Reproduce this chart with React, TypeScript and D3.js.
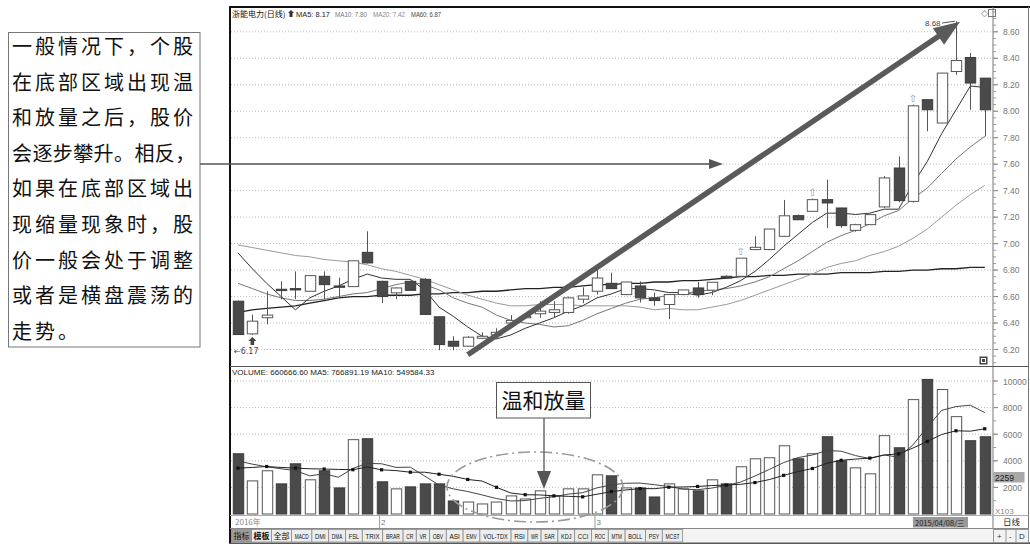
import React from "react";
import * as d3 from "d3";

// ---------- data ----------
const opens = [6.565, 6.318, 6.44, 6.655, 6.66, 6.64, 6.753, 6.68, 6.675, 6.934, 6.715, 6.628, 6.715, 6.73, 6.447, 6.262, 6.225, 6.285, 6.31, 6.40, 6.44, 6.47, 6.48, 6.48, 6.58, 6.64, 6.70, 6.615, 6.68, 6.59, 6.54, 6.615, 6.665, 6.648, 6.753, 6.753, 6.955, 6.955, 7.055, 7.211, 7.244, 7.332, 7.269, 7.10, 7.143, 7.277, 7.571, 7.319, 8.087, 7.911, 8.30, 8.406, 8.25];
const highs = [6.57, 6.464, 6.64, 6.715, 6.79, 6.76, 6.79, 6.743, 6.87, 7.093, 6.72, 6.67, 6.72, 6.74, 6.45, 6.30, 6.30, 6.33, 6.36, 6.46, 6.47, 6.565, 6.565, 6.60, 6.67, 6.80, 6.78, 6.71, 6.715, 6.63, 6.615, 6.65, 6.71, 6.71, 6.76, 6.89, 7.055, 7.11, 7.33, 7.22, 7.34, 7.483, 7.27, 7.15, 7.22, 7.51, 7.659, 8.05, 8.09, 8.29, 8.68, 8.44, 8.25];
const lows = [6.31, 6.31, 6.39, 6.58, 6.58, 6.64, 6.58, 6.592, 6.675, 6.85, 6.55, 6.58, 6.645, 6.46, 6.195, 6.195, 6.22, 6.28, 6.30, 6.40, 6.43, 6.44, 6.44, 6.47, 6.55, 6.615, 6.66, 6.61, 6.555, 6.53, 6.43, 6.61, 6.59, 6.61, 6.74, 6.75, 6.95, 6.95, 7.05, 7.18, 7.24, 7.118, 7.12, 7.09, 7.14, 7.27, 7.312, 7.31, 7.848, 7.91, 8.275, 8.011, 7.81];
const closes = [6.313, 6.414, 6.46, 6.645, 6.65, 6.758, 6.69, 6.67, 6.87, 6.854, 6.60, 6.665, 6.647, 6.465, 6.237, 6.225, 6.293, 6.30, 6.33, 6.42, 6.45, 6.49, 6.50, 6.59, 6.605, 6.74, 6.66, 6.71, 6.59, 6.57, 6.615, 6.65, 6.615, 6.708, 6.74, 6.89, 6.972, 7.11, 7.21, 7.18, 7.332, 7.307, 7.136, 7.143, 7.219, 7.496, 7.325, 8.041, 8.011, 8.288, 8.383, 8.213, 8.011];
const volumes = [4530, 2490, 3250, 2265, 3775, 2570, 3250, 1960, 5590, 5660, 2420, 1890, 2040, 2265, 2265, 980, 900, 755, 900, 1360, 1130, 1740, 1360, 1890, 1890, 2945, 2870, 1960, 1960, 1280, 2265, 1890, 1740, 2570, 2265, 3550, 4150, 4230, 5130, 4150, 4530, 5810, 4000, 3470, 3020, 5890, 4980, 8600, 10120, 9360, 7320, 5510, 5810];

const ma5 = [6.93, 6.81, 6.70, 6.60, 6.50, 6.59, 6.64, 6.68, 6.73, 6.77, 6.74, 6.73, 6.73, 6.65, 6.52, 6.45, 6.37, 6.30, 6.28, 6.31, 6.36, 6.40, 6.44, 6.49, 6.53, 6.59, 6.62, 6.66, 6.66, 6.65, 6.63, 6.63, 6.61, 6.63, 6.67, 6.72, 6.79, 6.88, 6.98, 7.07, 7.16, 7.23, 7.23, 7.22, 7.23, 7.26, 7.26, 7.45, 7.62, 7.83, 8.01, 8.19, 8.18];
const ma10 = [6.70, 6.66, 6.62, 6.59, 6.57, 6.57, 6.58, 6.60, 6.62, 6.63, 6.66, 6.69, 6.71, 6.69, 6.65, 6.59, 6.55, 6.52, 6.46, 6.42, 6.40, 6.39, 6.37, 6.38, 6.42, 6.47, 6.51, 6.55, 6.58, 6.59, 6.61, 6.62, 6.64, 6.65, 6.66, 6.68, 6.71, 6.75, 6.81, 6.87, 6.94, 7.01, 7.06, 7.10, 7.15, 7.21, 7.25, 7.34, 7.42, 7.53, 7.64, 7.73, 7.81];
const ma20 = [6.99, 6.97, 6.95, 6.93, 6.91, 6.90, 6.88, 6.87, 6.86, 6.84, 6.81, 6.79, 6.76, 6.73, 6.69, 6.65, 6.61, 6.58, 6.55, 6.53, 6.53, 6.54, 6.54, 6.54, 6.53, 6.53, 6.53, 6.53, 6.52, 6.50, 6.51, 6.50, 6.50, 6.52, 6.54, 6.57, 6.61, 6.65, 6.69, 6.73, 6.77, 6.82, 6.85, 6.87, 6.91, 6.94, 6.98, 7.04, 7.11, 7.20, 7.29, 7.37, 7.44];
const ma60 = [6.48, 6.50, 6.51, 6.52, 6.53, 6.55, 6.57, 6.59, 6.60, 6.60, 6.61, 6.61, 6.61, 6.62, 6.62, 6.63, 6.63, 6.64, 6.64, 6.65, 6.66, 6.66, 6.67, 6.67, 6.68, 6.69, 6.69, 6.70, 6.70, 6.71, 6.71, 6.72, 6.72, 6.73, 6.74, 6.75, 6.75, 6.76, 6.76, 6.77, 6.77, 6.77, 6.78, 6.78, 6.78, 6.79, 6.79, 6.80, 6.80, 6.81, 6.81, 6.82, 6.82];
const volMa5 = [4000, 3750, 3550, 3400, 3262, 2870, 3022, 2764, 3429, 3806, 3776, 3504, 3520, 2855, 2176, 1888, 1690, 1433, 1160, 979, 1009, 1177, 1298, 1496, 1602, 1965, 2191, 2311, 2325, 2203, 2067, 1871, 1827, 1949, 2146, 2403, 2855, 3353, 3865, 4242, 4438, 4770, 4724, 4392, 4166, 4438, 4272, 5192, 6522, 7790, 8076, 8182, 7624];
const volMa10 = [3450, 3500, 3570, 3500, 3450, 3400, 3380, 3350, 3330, 3534, 3323, 3263, 3142, 3142, 2991, 2832, 2597, 2477, 2008, 1578, 1449, 1434, 1366, 1328, 1291, 1487, 1684, 1805, 1911, 1903, 2016, 2031, 2069, 2137, 2175, 2235, 2363, 2590, 2907, 3194, 3421, 3813, 4039, 4129, 4204, 4438, 4521, 4958, 5457, 5978, 6257, 6227, 6408];

const priceTicks = [6.2, 6.4, 6.6, 6.8, 7.0, 7.2, 7.4, 7.6, 7.8, 8.0, 8.2, 8.4, 8.6];
const volTicks = [2000, 4000, 6000, 8000, 10000];
const markerIdx = [35, 40, 47];
const monthMarks = [{ i: 10, label: "2" }, { i: 25, label: "3" }];
const yearLabel = "2016年";
const lastDate = "2015/04/08/三";
const titleText = "浙能电力(日线)";
const maTitles = ["MA5: 8.17", "MA10: 7.80", "MA20: 7.42", "MA60: 6.87"];
const volTitle = "VOLUME: 660666.60  MA5: 766891.19  MA10: 549584.33";
const noteLines = ["一般情况下，个股", "在底部区域出现温", "和放量之后，股价", "会逐步攀升。相反，", "如果在底部区域出", "现缩量现象时，股", "价一般会处于调整", "或者是横盘震荡的", "走势。"];
const calloutText = "温和放量";
const tabLabels = ["指标", "模板", "全部", "MACD", "DMI", "DMA", "FSL", "TRIX", "BRAR", "CR", "VR", "OBV", "ASI", "EMV", "VOL-TDX", "RSI", "WR", "SAR", "KDJ", "CCI", "ROC", "MTM", "BOLL", "PSY", "MCST"];

const SANS = "'Liberation Sans', Arial, sans-serif";
const CJK = "'Noto Sans CJK SC', sans-serif";

export default function App() {
  const n = closes.length;
  const x = d3.scaleBand<number>().domain(d3.range(n)).range([230.8, 991.9]).padding(0);
  const bw = x.bandwidth();
  const cx = (i: number) => (x(i) as number) + bw / 2;
  const yP = d3.scaleLinear().domain([6.2, 8.6]).range([349.5, 31.8]);
  const yV = d3.scaleLinear().domain([0, 10000]).range([514, 381]);
  const bodyW = 10.4;

  const lp = d3.line<number>().x((_, i) => cx(i)).y((d) => yP(d));
  const lv = d3.line<number>().x((_, i) => cx(i)).y((d) => yV(d));

  const dark = "#4a4a4a";
  const edge = "#555";

  // big arrow
  const aS = [cx(16), yP(6.16)];
  const aT = [cx(50) + 4, yP(8.675)];
  const dx = aT[0] - aS[0], dy = aT[1] - aS[1];
  const len = Math.hypot(dx, dy);
  const ux = dx / len, uy = dy / len;
  const hl = 26, hw = 10;
  const bx = aT[0] - ux * hl, by = aT[1] - uy * hl;
  const head = `M${aT[0]},${aT[1]} L${bx - uy * hw},${by + ux * hw} L${bx + uy * hw},${by - ux * hw} Z`;

  // tabs
  let tx = 231;
  const tabs = tabLabels.map((t) => {
    const cjk = /[\u4e00-\u9fff]/.test(t);
    const w = cjk ? 20 : t.length * 3.6 + 6;
    const r = { t, x: tx, w, cjk };
    tx += w;
    return r;
  });

  const maX = [296, 335, 373, 411];
  const maW = [34, 32, 32, 30];

  return (
    <svg width={1030} height={546} style={{ position: "absolute", left: 0, top: 0, background: "#fff" }}>
      <rect x={0} y={0} width={1030} height={546} fill="#fff" />

      {/* frame */}
      <line x1={229} x2={1030} y1={7} y2={7} stroke="#111" strokeWidth={2} />
      <line x1={230} x2={230} y1={6} y2={543} stroke="#111" strokeWidth={2} />
      <line x1={993} x2={993} y1={7} y2={529} stroke="#777" strokeWidth={1} />
      <line x1={1028.5} x2={1028.5} y1={7} y2={543} stroke="#777" />
      <line x1={230} x2={1029} y1={366.5} y2={366.5} stroke="#555" />
      <line x1={230} x2={1029} y1={515.5} y2={515.5} stroke="#aaa" />
      <line x1={230} x2={1029} y1={528.5} y2={528.5} stroke="#888" />
      <line x1={229} x2={1030} y1={543} y2={543} stroke="#222" strokeWidth={1.5} />

      {/* price grid */}
      {priceTicks.map((p) => (
        <g key={"pg" + p}>
          <line x1={231} x2={992} y1={yP(p)} y2={yP(p)} stroke="#bdbdbd" strokeDasharray="1,2" />
          <line x1={993} x2={998} y1={yP(p)} y2={yP(p)} stroke="#777" />
          <text x={1003} y={yP(p) + 3} fontSize={8.5} fill="#777" fontFamily={SANS}>{p.toFixed(2)}</text>
        </g>
      ))}
      {d3.range(6.1, 8.76, 0.05).map((p) => (
        <line key={"mt" + p} x1={993} x2={996} y1={yP(p)} y2={yP(p)} stroke="#999" />
      ))}

      {/* volume grid */}
      {volTicks.map((v) => (
        <g key={"vg" + v}>
          <line x1={231} x2={992} y1={yV(v)} y2={yV(v)} stroke="#bdbdbd" strokeDasharray="1,2" />
          <line x1={993} x2={998} y1={yV(v)} y2={yV(v)} stroke="#777" />
          <text x={1003} y={yV(v) + 3.5} fontSize={8.5} fill="#777" fontFamily={SANS}>{v}</text>
        </g>
      ))}
      {d3.range(1000, 10600, 1000).map((v) => (
        <line key={"vm" + v} x1={993} x2={996} y1={yV(v)} y2={yV(v)} stroke="#999" />
      ))}

      {/* headers */}
      <text x={232} y={16.5} fontSize={8} fill="#111" fontFamily={CJK}>{titleText}</text>
      <path d="M291,10 L294,13 L292.5,13 L292.5,17 L289.5,17 L289.5,13 L288,13 Z" fill="#333" />
      {maTitles.map((t, i) => (
        <text key={t} x={maX[i]} y={16.5} fontSize={6.8} fill={["#222", "#777", "#888", "#444"][i]} fontFamily={SANS}
          textLength={maW[i]} lengthAdjust="spacingAndGlyphs">{t}</text>
      ))}
      <text x={981} y={16} fontSize={9} fill="#777" fontFamily="'DejaVu Sans'">◇</text>
      <rect x={988.5} y={9.5} width={7} height={7} fill="none" stroke="#777" />
      <text x={232} y={375} fontSize={8} fill="#222" fontFamily={SANS}>{volTitle}</text>

      {/* MA lines price */}
      <path d={lp(ma60) || ""} fill="none" stroke="#222" strokeWidth={1.3} />
      <path d={lp(ma20) || ""} fill="none" stroke="#9a9a9a" strokeWidth={1} />
      <path d={lp(ma10) || ""} fill="none" stroke="#777" strokeWidth={1} />
      <path d={lp(ma5) || ""} fill="none" stroke="#333" strokeWidth={1} />

      {/* candles */}
      {closes.map((c, i) => {
        const o = opens[i];
        const up = c > o;
        const xc = Math.round(cx(i)) + 0.5;
        const top = yP(Math.max(o, c));
        const bot = yP(Math.min(o, c));
        const h = Math.max(1.2, bot - top);
        const x0 = xc - bodyW / 2;
        return (
          <g key={"c" + i}>
            <line x1={xc} x2={xc} y1={yP(highs[i])} y2={top} stroke={edge} />
            <line x1={xc} x2={xc} y1={top + h} y2={yP(lows[i])} stroke={edge} />
            <rect x={x0} y={top} width={bodyW} height={h} fill={up ? "#fff" : dark} stroke={up ? edge : "#3a3a3a"} />
          </g>
        );
      })}

      {/* markers */}
      {markerIdx.map((i) => (
        <text key={"mk" + i} x={cx(i)} y={yP(highs[i]) - 3} fontSize={10} textAnchor="middle" fill="#999" fontFamily="'DejaVu Sans'">⇧</text>
      ))}
      <path d={`M${cx(1)},${yP(lows[1]) + 2} l4,4 l-2.2,0 l0,4 l-3.6,0 l0,-4 l-2.2,0 Z`} fill="#444" />
      <text x={234} y={354} fontSize={8} fill="#444" fontFamily="'DejaVu Sans'">←6.17</text>
      <text x={925} y={26} fontSize={8} fill="#444" fontFamily={SANS}>8.68</text>
      <line x1={942} x2={cx(50) - 1} y1={23} y2={yP(highs[50])} stroke="#555" />
      <rect x={979.5} y={356.5} width={8} height={8} fill="#444" />
      <rect x={981.5} y={358.5} width={4} height={4} fill="none" stroke="#fff" />

      {/* volume bars */}
      {volumes.map((v, i) => {
        const up = closes[i] > opens[i];
        const xc = Math.round(cx(i)) + 0.5;
        return (
          <rect key={"v" + i} x={xc - bodyW / 2} y={yV(v)} width={bodyW} height={yV(0) - yV(v)}
            fill={up ? "#fff" : dark} stroke={up ? edge : "#3a3a3a"} />
        );
      })}
      <path d={lv(volMa5) || ""} fill="none" stroke="#444" strokeWidth={1} />
      <path d={lv(volMa10) || ""} fill="none" stroke="#222" strokeWidth={1} />
      {volMa10.map((v, i) => (i % 2 === 0 ? <rect key={"vq" + i} x={cx(i) - 1.6} y={yV(v) - 1.6} width={3.2} height={3.2} fill="#111" /> : null))}

      {/* right column extras */}
      <rect x={993.5} y={472} width={31} height={10.5} fill="#a8a8a8" />
      <text x={995} y={480.5} fontSize={8.5} fill="#222" fontFamily={SANS}>2259</text>
      <text x={995} y={514} fontSize={8} fill="#888" fontFamily={SANS}>X103</text>
      <text x={1003} y={525} fontSize={8.5} fill="#222" fontFamily={CJK}>日线</text>
      <rect x={993.5} y={529.5} width={35} height={13} fill="#f2f2f2" stroke="#999" />
      <line x1={1006} x2={1006} y1={530} y2={542} stroke="#999" />
      <line x1={1016} x2={1016} y1={530} y2={542} stroke="#999" />
      <text x={997} y={539} fontSize={8} fill="#333" fontFamily={SANS}>+</text>
      <text x={1009} y={539} fontSize={8} fill="#333" fontFamily={SANS}>-</text>
      <text x={1019} y={539} fontSize={8} fill="#333" fontFamily={SANS}>D</text>

      {/* date row */}
      <text x={235} y={525} fontSize={8} fill="#888" fontFamily={CJK}>{yearLabel}</text>
      {monthMarks.map((m) => (
        <g key={"mm" + m.i}>
          <line x1={cx(m.i) - 2} x2={cx(m.i) - 2} y1={516} y2={528} stroke="#999" />
          <text x={cx(m.i) - 0.5} y={525} fontSize={8} fill="#777" fontFamily={SANS}>{m.label}</text>
        </g>
      ))}
      <rect x={913} y={517} width={55} height={10.5} fill="#999" />
      <text x={915} y={525.5} fontSize={7.5} fill="#222" fontFamily={CJK}>{lastDate}</text>

      {/* tabs */}
      <rect x={231} y={529} width={762} height={13.5} fill="#f4f4f4" />
      {tabs.map((t, i) => (
        <g key={"t" + i}>
          <rect x={t.x + 0.5} y={529.5} width={t.w} height={12.5} fill={i === 0 ? "#9c9c9c" : "#ededed"} stroke="#8a8a8a" strokeWidth={0.8} />
          <text x={t.x + t.w / 2 + 0.5} y={539} fontSize={t.cjk ? 8 : 7} textAnchor="middle" fill="#111"
            fontWeight={i === 1 ? "bold" : "normal"} fontFamily={t.cjk ? CJK : SANS}
            textLength={t.cjk ? undefined : t.t.length * 3.5} lengthAdjust="spacingAndGlyphs">{t.t}</text>
        </g>
      ))}

      {/* annotation: note box */}
      <rect x={8.5} y={32.5} width={191.5} height={314.5} fill="#fff" stroke="#777" />
      {noteLines.map((t, i) => (
        <text key={"n" + i} x={12} y={54 + i * 35.6} fontSize={20} fill="#111" fontFamily={CJK}
          letterSpacing={t.length > 8 ? 0.4 : 3}>{t}</text>
      ))}
      <line x1={200} x2={712} y1={164} y2={164} stroke="#555" strokeWidth={1.3} />
      <path d="M723,164 L709,159 L709,169 Z" fill="#555" />

      {/* big arrow */}
      <line x1={aS[0]} y1={aS[1]} x2={bx + ux * 2} y2={by + uy * 2} stroke="#5a5a5a" strokeWidth={5.5} />
      <path d={head} fill="#5a5a5a" />

      {/* callout */}
      <ellipse cx={535} cy={487} rx={88} ry={35} fill="none" stroke="#9a9a9a" strokeWidth={1.6} strokeDasharray="12,4,2,4" />
      <rect x={496.5} y={382.5} width={94} height={35.5} fill="#fff" stroke="#555" />
      <text x={543.5} y={408} fontSize={21} textAnchor="middle" fill="#111" fontFamily={CJK}>{calloutText}</text>
      <line x1={544} x2={544} y1={418} y2={472} stroke="#555" strokeWidth={1.3} />
      <path d="M544,489 L537,471 L551,471 Z" fill="#555" />
    </svg>
  );
}
